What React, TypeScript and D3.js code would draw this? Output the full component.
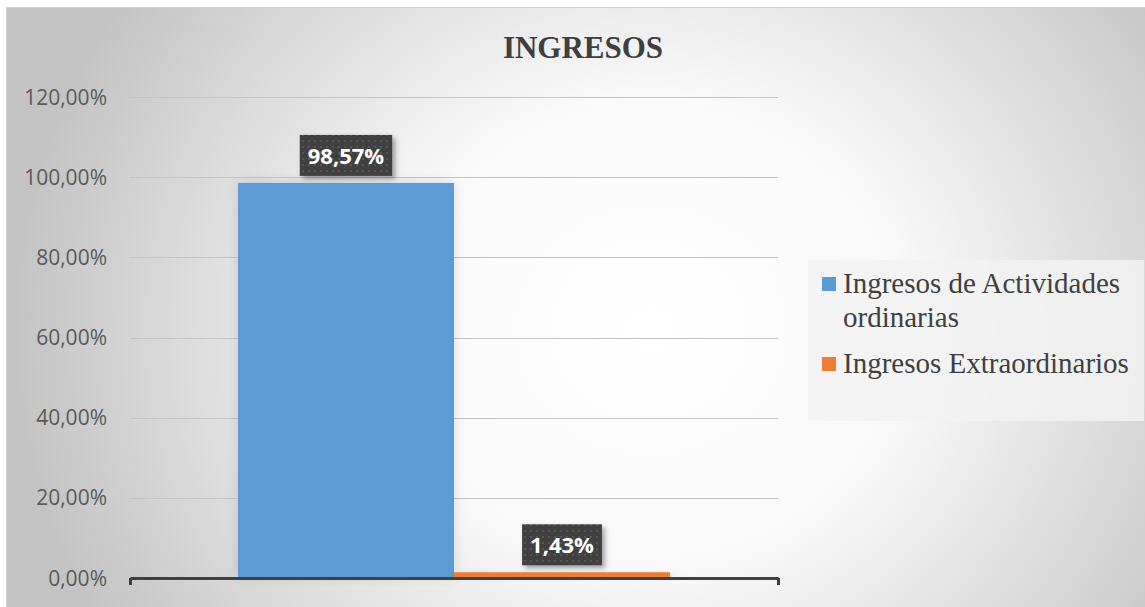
import * as d3 from 'd3';
import React, { useRef, useEffect } from 'react';

const categories = ['Ingresos'];
const seriesNames = ['Ingresos de Actividades ordinarias', 'Ingresos Extraordinarios'];
const seriesValues = [0.9857, 0.0143];
const seriesLabels = ['98,57%', '1,43%'];
const seriesColors = ['#5B9BD5', '#ED7D31'];
const yTicks = [0, 0.2, 0.4, 0.6, 0.8, 1.0, 1.2];
const legendLines = [['Ingresos de Actividades', 'ordinarias'], ['Ingresos Extraordinarios']];

const W = 1145;
const H = 607;

export default function App() {
    const ref = useRef<SVGSVGElement>(null);

    useEffect(() => {
        const svg = d3.select(ref.current);
        svg.selectAll('*').remove();

        const defs = svg.append('defs');
        // background: white in the middle, grey towards the edges
        const grad = defs.append('radialGradient')
            .attr('id', 'bg')
            .attr('gradientUnits', 'userSpaceOnUse')
            .attr('cx', 650).attr('cy', 330).attr('r', 640)
            .attr('gradientTransform', 'translate(650,330) scale(1,0.92) translate(-650,-330)');
        grad.append('stop').attr('offset', '0').attr('stop-color', '#ffffff');
        grad.append('stop').attr('offset', '0.4').attr('stop-color', '#f9f9f9');
        grad.append('stop').attr('offset', '1').attr('stop-color', '#c3c3c3');

        const pat = defs.append('pattern')
            .attr('id', 'dots')
            .attr('patternUnits', 'userSpaceOnUse')
            .attr('width', 6).attr('height', 6);
        pat.append('rect').attr('width', 6).attr('height', 6).attr('fill', '#404040');
        pat.append('rect').attr('x', 2).attr('y', 2).attr('width', 2).attr('height', 2).attr('fill', '#575757');

        const shadow = defs.append('filter').attr('id', 'shadow')
            .attr('x', '-20%').attr('y', '-20%').attr('width', '150%').attr('height', '150%');
        shadow.append('feDropShadow')
            .attr('dx', 3).attr('dy', 3).attr('stdDeviation', 2.5)
            .attr('flood-color', '#000').attr('flood-opacity', 0.35);

        const barShadow = defs.append('filter').attr('id', 'barShadow')
            .attr('x', '-20%').attr('y', '-5%').attr('width', '140%').attr('height', '110%');
        barShadow.append('feDropShadow')
            .attr('dx', 0).attr('dy', 0).attr('stdDeviation', 6)
            .attr('flood-color', '#000').attr('flood-opacity', 0.12);

        // chart frame
        svg.append('rect')
            .attr('x', 6.5).attr('y', 7.5)
            .attr('width', W - 6).attr('height', H)
            .attr('fill', 'url(#bg)')
            .attr('stroke', '#cfcfcf')

        const left = 130, right = 778, top = 97, bottom = 578;

        const y = d3.scaleLinear().domain([0, 1.2]).range([bottom, top]);

        const x0 = d3.scaleBand()
            .domain(categories)
            .range([left, right])
            .paddingInner(0)
            .paddingOuter(0.25);

        const x1 = d3.scaleBand()
            .domain(seriesNames)
            .range([0, x0.bandwidth()])
            .padding(0);

        // grid
        svg.append('g')
            .selectAll('line')
            .data(yTicks.filter(d => d > 0))
            .enter().append('line')
            .attr('x1', left).attr('x2', right)
            .attr('y1', d => Math.round(y(d)) + 0.5)
            .attr('y2', d => Math.round(y(d)) + 0.5)
            .attr('stroke', '#c4c4c4')
            .attr('stroke-width', 1);

        // y labels
        svg.append('g')
            .selectAll('text')
            .data(yTicks)
            .enter().append('text')
            .attr('x', 107)
            .attr('y', d => y(d))
            .attr('dy', '0.36em')
            .attr('text-anchor', 'end')
            .style('font-family', '"Open Sans", sans-serif')
            .style('font-size', '21px')
            .style('fill', '#595959')
            .text(d => d3.format('.2f')(d * 100).replace('.', ',') + '%');

        // bars
        const data = seriesNames.map((s, i) => ({ name: s, value: seriesValues[i], label: seriesLabels[i], color: seriesColors[i] }));
        const cat = categories[0];

        svg.append('g')
            .selectAll('rect')
            .data(data)
            .enter().append('rect')
            .attr('x', d => (x0(cat) as number) + (x1(d.name) as number))
            .attr('width', x1.bandwidth())
            .attr('y', d => y(d.value))
            .attr('height', d => bottom - y(d.value))
            .attr('fill', d => d.color)
            .attr('filter', 'url(#barShadow)');

        // x axis
        const xa = d3.scaleLinear().domain([0, 1]).range([left, right]);
        const axis = svg.append('g')
            .attr('transform', `translate(0, ${bottom})`)
            .call(d3.axisBottom(xa).tickValues([0, 1]).tickSize(7).tickSizeOuter(0).tickFormat(() => ''));
        axis.select('.domain').attr('stroke', '#404040').attr('stroke-width', 3);
        axis.selectAll('.tick line').attr('stroke', '#404040').attr('stroke-width', 3);

        // data labels
        const lg = svg.append('g')
            .selectAll('g')
            .data(data)
            .enter().append('g');
        lg.each(function (d) {
            const g = d3.select(this);
            const cx = (x0(cat) as number) + (x1(d.name) as number) + x1.bandwidth() / 2;
            const boxBottom = y(d.value) - 7;
            const rect = g.append('rect').attr('fill', 'url(#dots)').attr('filter', 'url(#shadow)');
            const t = g.append('text')
                .attr('x', cx)
                .attr('y', boxBottom - 12)
                .attr('text-anchor', 'middle')
                .style('font-family', '"Open Sans", sans-serif')
                .style('font-weight', 'bold')
                .style('font-size', '22px')
                .style('fill', '#ffffff')
                .text(d.label);
            const w = (t.node() as SVGTextElement).getComputedTextLength() + 16;
            rect.attr('x', cx - w / 2).attr('y', boxBottom - 41).attr('width', w).attr('height', 41);
        });

        // title
        svg.append('text')
            .attr('x', 583)
            .attr('y', 58)
            .attr('text-anchor', 'middle')
            .style('font-family', '"Liberation Serif", "Times New Roman", serif')
            .style('font-weight', 'bold')
            .style('font-size', '31px')
            .style('fill', '#3f3f3f')
            .text('INGRESOS');

        // legend
        svg.append('rect')
            .attr('x', 808).attr('y', 260)
            .attr('width', 336).attr('height', 161)
            .attr('fill', '#f2f2f2')
            .attr('opacity', 0.85);

        const rowY = [293, 373];
        const leg = svg.append('g')
            .selectAll('g')
            .data(data)
            .enter().append('g');
        leg.append('rect')
            .attr('x', 822)
            .attr('y', (d, i) => rowY[i] - 16)
            .attr('width', 14).attr('height', 14)
            .attr('fill', d => d.color);
        leg.append('text')
            .attr('x', 843)
            .attr('y', (d, i) => rowY[i])
            .style('font-family', '"Liberation Serif", "Times New Roman", serif')
            .style('font-size', '29px')
            .style('fill', '#404040')
            .each(function (d, i) {
                const el = d3.select(this);
                legendLines[i].forEach((line, j) => {
                    el.append('tspan').attr('x', 843).attr('dy', j === 0 ? 0 : 34).text(line);
                });
            });
    }, []);

    return (
        <div style={{ position: 'absolute', left: 0, top: 0 }}>
            <svg ref={ref} width={W} height={H} style={{ display: 'block' }} />
        </div>
    );
}
